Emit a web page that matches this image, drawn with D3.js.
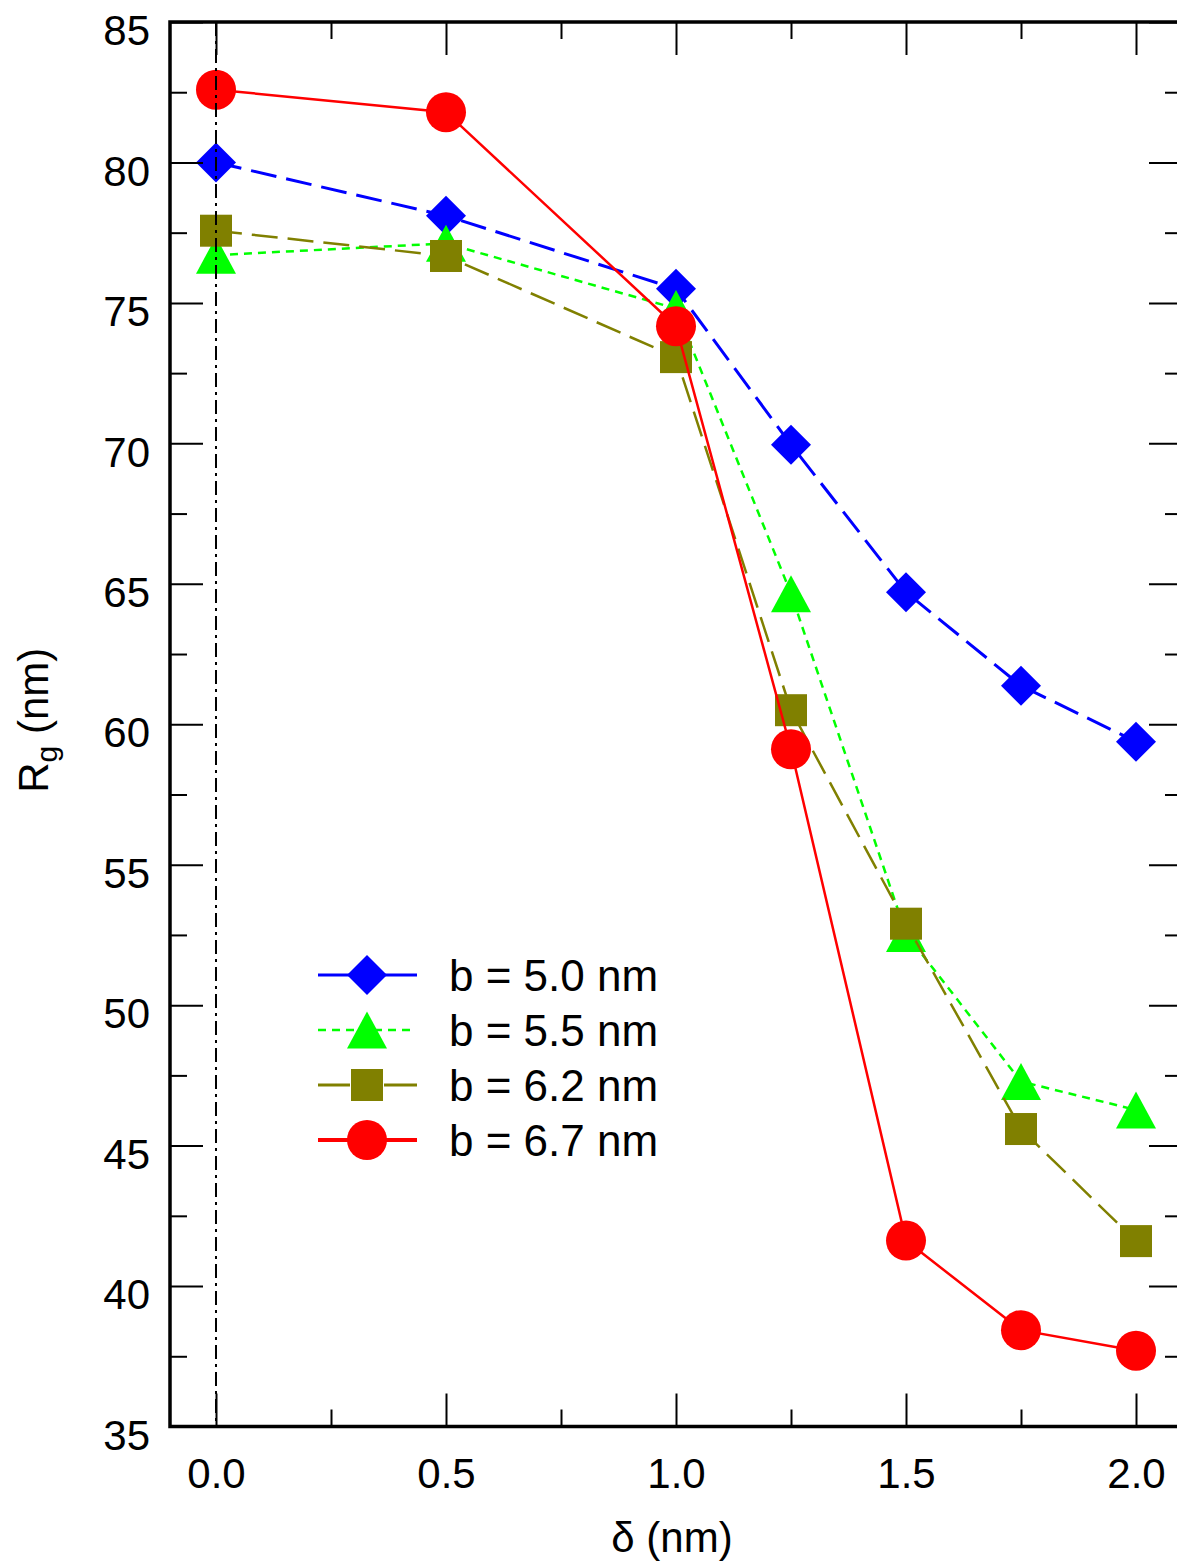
<!DOCTYPE html>
<html>
<head>
<meta charset="utf-8">
<script src="https://cdn.jsdelivr.net/npm/d3@7"></script>
<style>
  html, body { margin: 0; padding: 0; background: #fff; }
  svg { display: block; }
  text { font-family: "Liberation Sans", Arial, Helvetica, sans-serif; fill: #000; }
</style>
</head>
<body>
<svg id="chart" width="1177" height="1566"></svg>
<script>
// ---- data ----
const deltas = [0, 0.5, 1.0, 1.25, 1.5, 1.75, 2.0];
const rgB50 = [80.0, 78.1, 75.5, 69.95, 64.7, 61.37, 59.38];
const rgB55 = [76.7, 77.12, 74.8, 64.65, 52.55, 47.28, 46.27];
const rgB62 = [77.57, 76.67, 73.07, 60.5, 52.9, 45.59, 41.6];
const rgB67 = [82.59, 81.79, 74.17, 59.11, 41.62, 38.43, 37.7];
const seriesLabels = ["b = 5.0 nm", "b = 5.5 nm", "b = 6.2 nm", "b = 6.7 nm"];
const xMajorTicks = [0, 0.5, 1.0, 1.5, 2.0];
const xMinorTicks = [0.25, 0.75, 1.25, 1.75];
const yMajorTicks = [35, 40, 45, 50, 55, 60, 65, 70, 75, 80, 85];
const yMinorTicks = [37.5, 42.5, 47.5, 52.5, 57.5, 62.5, 67.5, 72.5, 77.5, 82.5];
const xTitle = "δ (nm)";

// ---- layout ----
const svg = d3.select("#chart");
const L = 170, R = 1182, T = 22, B = 1426.5;
const x = d3.scaleLinear().domain([-0.1, 2.1]).range([L, R]);
const y = d3.scaleLinear().domain([35, 85]).range([B, T]);
const FS = 42;
const fmtX = d3.format(".1f");

const styles = [
  {values: rgB50, color: "#0000ff", dash: "26,10", width: 3, marker: "diamond"},
  {values: rgB55, color: "#00ff00", dash: "8,6", width: 2.5, marker: "triangle"},
  {values: rgB62, color: "#808000", dash: "26,10", width: 2.5, marker: "square"},
  {values: rgB67, color: "#ff0000", dash: null, width: 2.5, marker: "circle"}
];

function drawMarker(g, type, cx, cy, color) {
  if (type === "circle") {
    g.append("circle").attr("cx", cx).attr("cy", cy).attr("r", 20).attr("fill", color);
  } else if (type === "diamond") {
    const s = 20;
    g.append("path").attr("d", `M${cx},${cy - s}L${cx + s},${cy}L${cx},${cy + s}L${cx - s},${cy}Z`).attr("fill", color);
  } else if (type === "square") {
    const s = 16;
    g.append("rect").attr("x", cx - s).attr("y", cy - s).attr("width", 2 * s).attr("height", 2 * s).attr("fill", color);
  } else if (type === "triangle") {
    const w = 20, h = 18.5;
    g.append("path").attr("d", `M${cx},${cy - h}L${cx + w},${cy + h}L${cx - w},${cy + h}Z`).attr("fill", color);
  }
}

// ---- series ----
const line = d3.line().x(d => x(d[0])).y(d => y(d[1]));
const plotG = svg.append("g");
styles.forEach(s => {
  const pts = deltas.map((d, i) => [d, s.values[i]]);
  const p = plotG.append("path").datum(pts).attr("d", line)
    .attr("fill", "none").attr("stroke", s.color).attr("stroke-width", s.width);
  if (s.dash) p.attr("stroke-dasharray", s.dash);
  pts.forEach(pt => drawMarker(plotG, s.marker, x(pt[0]), y(pt[1]), s.color));
});

// dash-dot vertical line at delta = 0 (on top)
svg.append("line").attr("x1", x(0)).attr("x2", x(0)).attr("y1", T).attr("y2", B)
  .attr("stroke", "#000").attr("stroke-width", 2).attr("stroke-dasharray", "14,5,3,5");

// ---- axes ----
function styleAxis(g) {
  g.select(".domain").remove();
  g.selectAll(".tick line").attr("stroke", "#000").attr("stroke-width", 2);
}
// bottom
svg.append("g").attr("transform", `translate(0,${B})`)
  .call(d3.axisBottom(x).tickValues(xMajorTicks).tickSize(-33).tickPadding(32).tickFormat(fmtX))
  .call(styleAxis)
  .selectAll("text").attr("font-size", FS).attr("font-family", "Liberation Sans, Arial, sans-serif");
svg.append("g").attr("transform", `translate(0,${B})`)
  .call(d3.axisBottom(x).tickValues(xMinorTicks).tickSize(-17).tickFormat(""))
  .call(styleAxis);
// top
svg.append("g").attr("transform", `translate(0,${T})`)
  .call(d3.axisTop(x).tickValues(xMajorTicks).tickSize(-33).tickFormat(""))
  .call(styleAxis);
svg.append("g").attr("transform", `translate(0,${T})`)
  .call(d3.axisTop(x).tickValues(xMinorTicks).tickSize(-17).tickFormat(""))
  .call(styleAxis);
// left
const leftAx = svg.append("g").attr("transform", `translate(${L},0)`)
  .call(d3.axisLeft(y).tickValues(yMajorTicks).tickSize(-33).tickPadding(20).tickFormat(d3.format("d")))
  .call(styleAxis);
leftAx.selectAll("text").attr("font-size", FS).attr("dy", "0.54em").attr("font-family", "Liberation Sans, Arial, sans-serif");
svg.append("g").attr("transform", `translate(${L},0)`)
  .call(d3.axisLeft(y).tickValues(yMinorTicks).tickSize(-17).tickFormat(""))
  .call(styleAxis);
// right
svg.append("g").attr("transform", `translate(${R},0)`)
  .call(d3.axisRight(y).tickValues(yMajorTicks).tickSize(-33).tickFormat(""))
  .call(styleAxis);
svg.append("g").attr("transform", `translate(${R},0)`)
  .call(d3.axisRight(y).tickValues(yMinorTicks).tickSize(-17).tickFormat(""))
  .call(styleAxis);

// frame
svg.append("rect").attr("x", L).attr("y", T).attr("width", R - L).attr("height", B - T)
  .attr("fill", "none").attr("stroke", "#000").attr("stroke-width", 3.5);

// ---- axis titles ----
svg.append("text").attr("x", (L + R) / 2 - 4).attr("y", 1552).attr("text-anchor", "middle")
  .attr("font-size", FS).text(xTitle);
const yt = svg.append("text").attr("transform", `translate(48,${(T + B) / 2 - 4}) rotate(-90)`)
  .attr("text-anchor", "middle").attr("font-size", FS);
yt.append("tspan").text("R");
yt.append("tspan").attr("font-size", 30).attr("dy", 9).text("g");
yt.append("tspan").attr("dy", -9).text(" (nm)");

// ---- legend ----
const legRows = [975, 1030, 1085, 1140];
const legG = svg.append("g");
styles.forEach((s, i) => {
  const yy = legRows[i];
  if (s.marker === "triangle") {
    legG.append("line").attr("x1", 318).attr("x2", 416).attr("y1", yy).attr("y2", yy)
      .attr("stroke", s.color).attr("stroke-width", 2.5).attr("stroke-dasharray", "8,6");
  } else {
    const w = s.marker === "circle" ? 4 : 3;
    legG.append("line").attr("x1", 318).attr("x2", 350).attr("y1", yy).attr("y2", yy)
      .attr("stroke", s.color).attr("stroke-width", w);
    legG.append("line").attr("x1", 384).attr("x2", 417).attr("y1", yy).attr("y2", yy)
      .attr("stroke", s.color).attr("stroke-width", w);
  }
  drawMarker(legG, s.marker, 367, yy, s.color);
  legG.append("text").attr("x", 449).attr("y", yy + 16).attr("font-size", 44).text(seriesLabels[i]);
});
</script>
</body>
</html>
